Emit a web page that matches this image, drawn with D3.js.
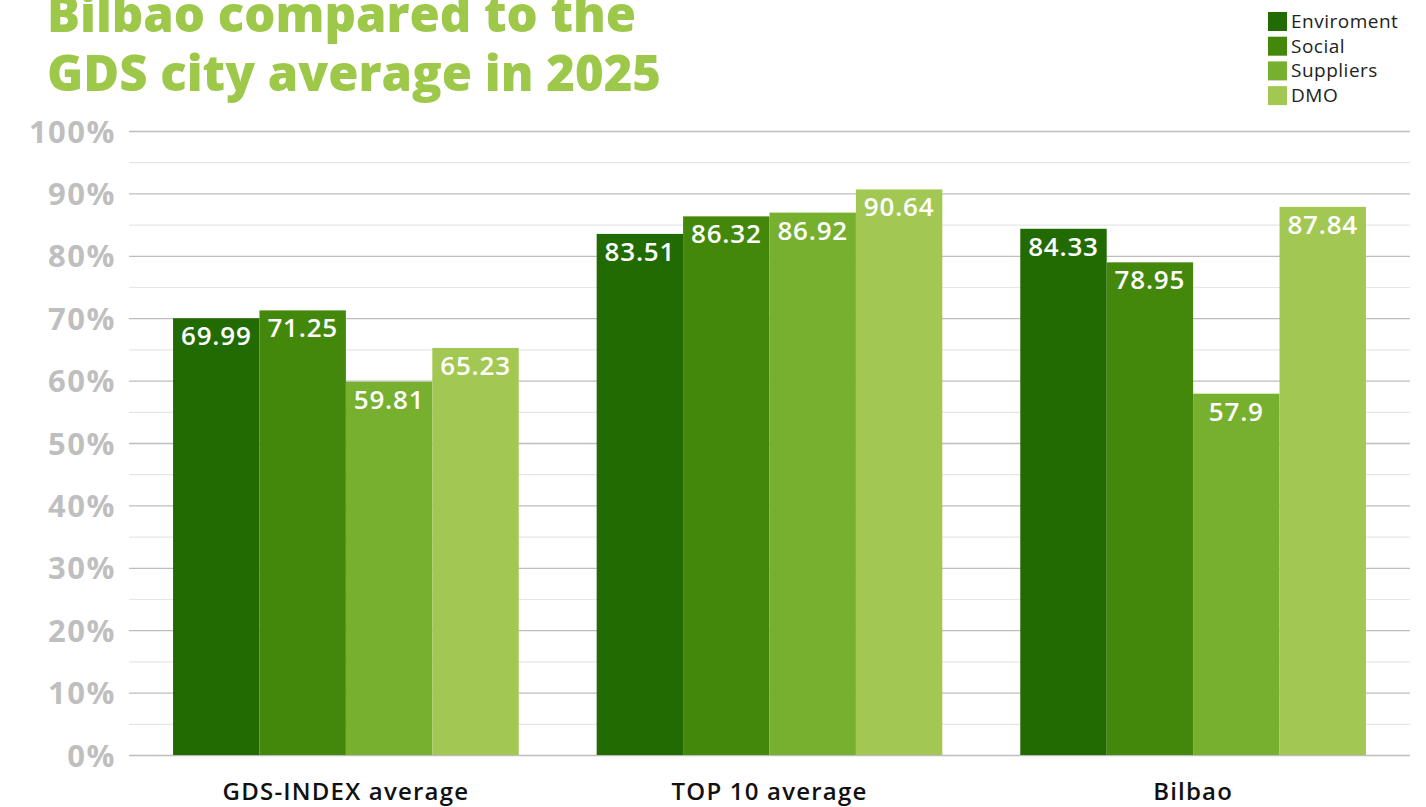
<!DOCTYPE html>
<html>
<head>
<meta charset="utf-8">
<script src="https://cdnjs.cloudflare.com/ajax/libs/d3/7.8.5/d3.min.js"></script>
<style>
  body { margin: 0; background: #fff; }
  svg { display: block; font-family: "Open Sans", sans-serif; }
</style>
</head>
<body>
<div id="chart"></div>
<script>
// data
var categories = ["GDS-INDEX average", "TOP 10 average", "Bilbao"];
var seriesNames = ["Enviroment", "Social", "Suppliers", "DMO"];
var enviroment = [69.99, 83.51, 84.33];
var social = [71.25, 86.32, 78.95];
var suppliers = [59.81, 86.92, 57.9];
var dmo = [65.23, 90.64, 87.84];
var yTicks = [0, 10, 20, 30, 40, 50, 60, 70, 80, 90, 100];
var colors = ["#226a02", "#43880b", "#77b02e", "#a2c853"];

var series = [enviroment, social, suppliers, dmo];
var rows = categories.map(function(c, i) {
    return { cat: c, vals: series.map(function(s, j) { return { key: seriesNames[j], v: s[i] }; }) };
});

var w = 1426, h = 807;
var svg = d3.select("#chart").append("svg")
    .attr("width", w)
    .attr("height", h);

var x0 = d3.scaleBand()
    .domain(categories)
    .range([129, 1410])
    .paddingInner(0.184)
    .paddingOuter(0.104);
var x1 = d3.scaleBand()
    .domain(seriesNames)
    .range([0, x0.bandwidth()]);
var y = d3.scaleLinear()
    .domain([0, 100])
    .range([755, 131]);

// minor gridlines (every 5%)
svg.append("g").selectAll("line")
    .data(d3.range(5, 100, 10))
    .enter().append("line")
    .attr("x1", 129).attr("x2", 1410)
    .attr("y1", function(d) { return y(d) + 0.5; })
    .attr("y2", function(d) { return y(d) + 0.5; })
    .attr("stroke", "#e6e6e6")
    .attr("stroke-width", 1.2);

// y axis with major gridlines
var yAxis = d3.axisLeft(y)
    .tickValues(yTicks)
    .tickSize(-(1410 - 129))
    .tickPadding(13)
    .tickFormat(function(d) { return d + "%"; });
var ga = svg.append("g")
    .attr("transform", "translate(129,0)")
    .call(yAxis);
ga.select(".domain").remove();
ga.selectAll(".tick line").attr("stroke", "#bdbdbd").attr("stroke-width", 1.3);
ga.selectAll(".tick text")
    .attr("fill", "#bfbfbf")
    .attr("font-size", "31px")
    .attr("font-weight", "bold")
    .attr("letter-spacing", "1.5px")
    .attr("font-family", "'Open Sans', sans-serif")
    .attr("dy", "0.36em");

// bars
var groups = svg.append("g").selectAll("g")
    .data(rows)
    .enter().append("g")
    .attr("transform", function(d) { return "translate(" + x0(d.cat) + ",0)"; });

groups.selectAll("rect")
    .data(function(d) { return d.vals; })
    .enter().append("rect")
    .attr("x", function(d) { return x1(d.key); })
    .attr("y", function(d) { return y(d.v); })
    .attr("width", x1.bandwidth())
    .attr("height", function(d) { return y(0) - y(d.v); })
    .attr("fill", function(d, i) { return colors[i]; });

groups.selectAll("text")
    .data(function(d) { return d.vals; })
    .enter().append("text")
    .text(function(d) { return d.v; })
    .attr("x", function(d) { return x1(d.key) + x1.bandwidth() / 2; })
    .attr("y", function(d) { return y(d.v) + 27; })
    .attr("text-anchor", "middle")
    .attr("fill", "#fff")
    .attr("font-size", "26px")
    .attr("letter-spacing", "0.8px")
    .attr("font-weight", 600);

// category labels
svg.append("g").selectAll("text")
    .data(categories)
    .enter().append("text")
    .text(function(d) { return d; })
    .attr("x", function(d) { return x0(d) + x0.bandwidth() / 2; })
    .attr("y", 800)
    .attr("text-anchor", "middle")
    .attr("fill", "#111")
    .attr("font-size", "24px")
    .attr("letter-spacing", "1.2px")
    .attr("font-weight", 600);

// title
var title = svg.append("text")
    .attr("x", 47)
    .attr("fill", "#9dc84a")
    .attr("font-size", "49px")
    .attr("font-weight", 800);
title.append("tspan").attr("x", 47).attr("y", 32).text("Bilbao compared to the");
title.append("tspan").attr("x", 47).attr("y", 91).text("GDS city average in 2025");

// legend
var legend = svg.append("g").selectAll("g")
    .data(seriesNames)
    .enter().append("g")
    .attr("transform", function(d, i) { return "translate(1268," + (12 + i * 24.7) + ")"; });
legend.append("rect")
    .attr("width", 19).attr("height", 19)
    .attr("fill", function(d, i) { return colors[i]; });
legend.append("text")
    .text(function(d) { return d; })
    .attr("x", 23)
    .attr("y", 16)
    .attr("fill", "#222")
    .attr("font-size", "19px")
    .attr("letter-spacing", "0.5px");
</script>
</body>
</html>
